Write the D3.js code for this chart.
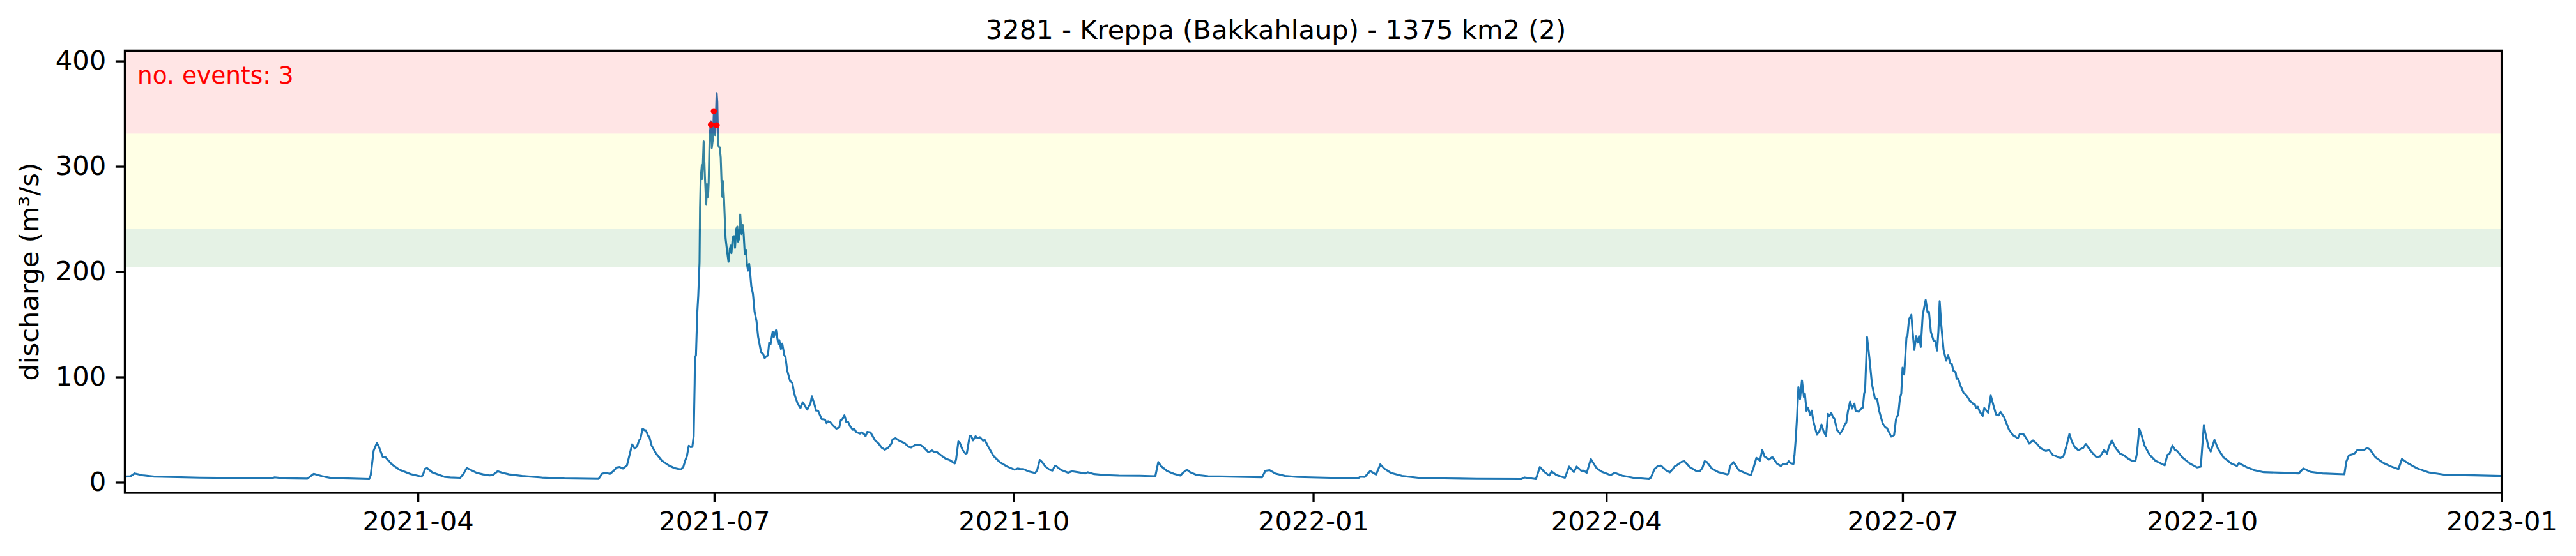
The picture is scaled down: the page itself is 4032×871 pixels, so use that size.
<!DOCTYPE html>
<html lang="en">
<head>
    <meta charset="UTF-8">
    <script src="https://cdn.jsdelivr.net/npm/d3@7"></script>
    <title>3281 - Kreppa</title>
    <style>
        body {
            margin: 0;
            background: white;
        }
        text {
            font-family: "DejaVu Sans", sans-serif;
            font-size: 41.67px;
            fill: black;
        }
        .tick line, .frame {
            stroke: black;
            stroke-width: 3.33px;
        }
        .frame {
            fill: none;
        }
    </style>
</head>

<body>
    <div id="chart"></div>

    <script>
        const titleText = "3281 - Kreppa (Bakkahlaup) - 1375 km2 (2)";
        const yLabel = "discharge (m³/s)";
        const eventsLabel = "no. events: 3";

        const yTicks = [0, 100, 200, 300, 400];
        const xTicks = ["2021-04", "2021-07", "2021-10", "2022-01", "2022-04", "2022-07", "2022-10", "2023-01"];

        // warning levels, lower and upper edge in m3/s
        const bandEdges = [[204, 240.5], [240.5, 331], [331, 420]];
        const bandColors = ["green", "yellow", "red"];

        // days since 2021-01-01
        const obsDay = [
            0, 1.75, 3, 5.4, 9, 23, 45, 46, 49, 56,
            58, 60.6, 64, 67, 75, 75.5, 76.4, 77.4, 78.1, 79.2,
            80, 82, 84.3, 87.8, 91, 91.5, 92.2, 92.8, 94.4, 98.3,
            100, 103, 104, 105, 106, 108, 110, 112, 113, 114.5,
            116, 118, 122, 128, 135, 145.5, 146.5, 147.5, 149, 150,
            151, 152, 153, 154.2, 155, 155.8, 156.6, 157.3, 157.9, 158.3,
            159, 159.6, 160, 160.7, 161.1, 161.8, 163.1, 164.9, 167.1, 168.8,
            170.8, 171.5, 172.1, 172.6, 173.2, 173.8, 174.3, 174.7, 175, 175.1,
            175.4, 175.8, 176.1, 176.5, 176.65, 176.85, 177.2, 177.3, 177.5, 177.76,
            178.15, 178.55, 178.8, 179.1, 179.3, 179.6, 180, 180.25, 180.6, 180.9,
            181.3, 181.5, 181.75, 181.95, 182.2, 182.4, 182.7, 183, 183.25, 183.5,
            183.7, 184, 184.5, 185, 185.4, 185.8, 186.1, 186.3, 186.7, 187.1,
            187.4, 187.8, 188.1, 188.3, 188.6, 189, 189.4, 189.8, 190.05, 190.4,
            190.8, 191.05, 191.4, 191.75, 192, 192.4, 192.9, 193.4, 194, 194.5,
            195.4, 196, 196.5, 197, 197.5, 197.9, 198.3, 198.96, 199.3, 200,
            200.7, 201, 201.5, 201.9, 202.55, 202.9, 203.4, 204.3, 205, 205.6,
            206.6, 207.5, 208.2, 209.6, 210.2, 210.5, 211, 211.7, 212.3, 212.9,
            214, 215, 215.5, 216, 216.7, 217.4, 218.5, 219.4, 219.9, 220.4,
            221, 221.6, 222.1, 222.8, 223.6, 224, 224.6, 225.8, 226.2, 226.9,
            227.5, 228, 229, 230.4, 231.5, 232.5, 233.4, 234.5, 235.4, 235.8,
            236.7, 237.6, 239.4, 240.7, 241.5, 242.9, 244.2, 245.5, 246.8, 247.9,
            248.5, 249.4, 250.7, 252, 253.4, 254.9, 255.3, 256, 256.4, 257.3,
            258.2, 258.6, 259.5, 259.9, 260.5, 261.3, 261.9, 262.6, 263.6, 264.1,
            265.2, 266.9, 268.7, 270.9, 273.3, 274.2, 275.1, 276, 277.4, 279.6,
            280.2, 281, 281.6, 282.7, 284, 284.9, 285.6, 286, 287.4, 289.7,
            290.9, 295, 295.7, 297.7, 301.2, 305.2, 311.7, 316.5, 317.4, 318.2,
            320.2, 322.2, 324.2, 325, 326.2, 327.2, 329.2, 332.7, 339.3, 349.3,
            350.3, 351.6, 353.3, 356.3, 360.3, 370.3, 378.8, 379.5, 380.8, 382.5,
            384.3, 385.6, 386.8, 388.8, 392.3, 397.3, 405.3, 415.3, 428.9, 429.9,
            433.4, 434.6, 436.1, 437.5, 438.2, 439.7, 442.3, 443.6, 445.05, 445.9,
            447.3, 448.1, 449, 450.25, 452, 453.6, 456.3, 457.6, 459.8, 463.3,
            468.1, 468.7, 469.8, 470.7, 471.8, 473.3, 474.5, 475.4, 476, 476.8,
            478.2, 479, 480.6, 482.5, 483.7, 484.5, 485.2, 485.9, 487.4, 489.5,
            492.2, 492.6, 493, 494.1, 495.7, 497.9, 499.4, 500.2, 501.1, 502.2,
            502.9, 503.6, 504.9, 506, 507.5, 508.6, 509.3, 510.4, 511, 511.7,
            512.5, 512.8, 513.2, 513.6, 514, 514.5, 515.1, 515.7, 516, 516.5,
            516.95, 517.6, 518.1, 518.6, 519.7, 520.5, 521.1, 521.8, 522.5, 523.1,
            523.5, 524.1, 524.6, 525.1, 525.9, 526.8, 527.6, 528.4, 528.7, 529.2,
            529.9, 530.5, 531.2, 531.6, 532.6, 533.3, 533.8, 534.2, 534.5, 535.1,
            535.8, 536.6, 537.5, 538.2, 538.8, 539.9, 540.8, 541.2, 541.8, 542.5,
            543.4, 544, 544.7, 545.2, 545.6, 546, 546.5, 547.2, 547.5, 548,
            548.7, 549.1, 549.6, 550.2, 550.7, 551.1, 551.6, 552.2, 553.1, 553.7,
            554.1, 554.7, 555.5, 556.1, 556.6, 557, 557.4, 557.9, 558.6, 559.4,
            560, 560.7, 561.1, 561.6, 562.3, 562.6, 563.1, 563.7, 564.7, 565.9,
            566.6, 567.7, 568.2, 568.6, 569.1, 569.7, 570.65, 571.1, 572.3, 573.1,
            574, 574.7, 575.55, 576.1, 577.2, 578.7, 579.9, 581.4, 582, 583.1,
            584, 584.9, 586.05, 587.2, 588.4, 590, 591, 592.1, 593.3, 594.45,
            595.4, 596.2, 597.25, 598, 598.9, 600, 601.5, 602.3, 603.8, 605.5,
            606.7, 607.9, 608.8, 609.4, 610.3, 611.4, 612.8, 614, 615.5, 616.6,
            617.55, 618, 618.7, 619.4, 620.35, 621.9, 623.6, 626.5, 627.35, 628,
            628.9, 629.7, 630.4, 631.8, 634.1, 636.45, 637.6, 638.55, 639, 640,
            640.65, 641.35, 641.8, 642.9, 644.6, 646.95, 648.7, 649.3, 651.6, 654,
            656.9, 663.3, 667.7, 669.1, 671.4, 675, 681.7, 682.3, 683.1, 684.3,
            684.9, 685.7, 686.4, 687.5, 688.7, 689.5, 691.3, 693.6, 695.95, 698.3,
            699.4, 701.2, 704.1, 707.6, 712.85, 721.6, 729.8
        ];

        const discharge = [
            5.4, 5.7, 8.4, 6.7, 5.4, 4.4, 3.7, 4.7, 3.7, 3.4,
            8, 5.7, 3.7, 3.7, 3, 6.7, 30, 37.4, 33, 24,
            24, 17, 12, 7.7, 5.4, 6.7, 12.8, 13.5, 9.4, 5,
            4.6, 4.2, 8, 13.5, 12, 9, 7.5, 6.5, 6.8, 10.5,
            9, 7.5, 6, 4.5, 3.6, 3.2, 8, 9, 8, 10.5,
            14, 14.5, 13, 16, 26, 36, 32, 34, 39.7, 40.8,
            50.9, 49.4, 49.4, 44.2, 42.8, 34.7, 27.6, 20.6, 15.9, 13.5,
            12.1, 14.5, 20.6, 24.6, 34.7, 33.3, 33.7, 43.8, 94.3, 118.5,
            120.5, 161, 177, 209, 260, 288, 301, 288, 300, 323.6,
            290, 264, 283, 271, 284, 328, 342.8, 317.5, 326, 352,
            329.6, 344.8, 369.5, 361, 322.5, 318.5, 318, 308.5, 286, 271,
            286, 270, 231.7, 218.5, 209.4, 221.6, 224.6, 217.5, 232.7, 233.7,
            222.6, 240.8, 242.8, 228.6, 230.7, 254.3, 235.7, 244.2, 235.7, 216.5,
            220.6, 207.4, 200.9, 207.4, 200.4, 186.2, 179, 162, 153, 138,
            123.6, 122, 118, 119.5, 120.5, 132.7, 131, 143, 137.7, 144.4,
            131, 135, 126.6, 131.7, 120.5, 119, 106.4, 96.3, 94.3, 84,
            75, 70.5, 76, 69, 73, 73.7, 81.6, 75, 68, 68,
            60, 59.6, 56.3, 58, 57, 54.3, 50.9, 52, 59, 60,
            63.6, 57, 57.5, 52.9, 49.9, 50.9, 47.8, 46.2, 47.4, 46.2,
            43.8, 47.8, 47.4, 39.8, 36.7, 32.7, 30.9, 33, 36.7, 40.8,
            41.8, 39.8, 37.3, 33.7, 33, 35.7, 35.7, 32.7, 28.6, 30.3,
            29, 28.6, 25.6, 22.6, 21, 17.9, 21.6, 38.7, 37.7, 30.7,
            27.2, 27.6, 44.2, 44.2, 39.8, 43.8, 41.8, 42.8, 39.4, 40.2,
            33.7, 24.6, 19.2, 15.1, 11.9, 13.1, 12.5, 12.5, 10.5, 8.8,
            11.5, 21.2, 19.6, 15.1, 11.9, 11.1, 15.5, 15.5, 11.9, 9.1,
            10.5, 8.4, 9.5, 7.8, 6.8, 6.4, 6.2, 5.8, 19.2, 15.5,
            10.5, 8, 6.4, 9, 12, 9.5, 7, 5.8, 5.4, 4.8,
            10.9, 11.5, 8.4, 6, 5, 4.2, 3.8, 5.4, 5, 10.7,
            7.4, 17, 13, 9, 6, 4.2, 3.6, 3.2, 3, 4.6,
            3, 14.5, 9.5, 6.4, 10.3, 6.8, 4.3, 14.9, 9.7, 14.9,
            11, 11, 9, 22, 13.5, 10, 6.8, 9, 6.4, 4.2,
            3, 4.4, 12.5, 15.1, 15.9, 11.5, 9.5, 12.5, 15.1, 16.5,
            19.6, 20, 14.5, 11, 10.5, 13.5, 20, 19.2, 13.1, 9.5,
            7.4, 8.4, 15.5, 19.2, 11.5, 8.4, 6.8, 13.5, 23.2, 20.6,
            30.7, 24.6, 21.6, 24, 17.5, 15.5, 17.1, 17, 20, 18.1,
            17.5, 25.6, 41.8, 62, 90.3, 79, 96.7, 81, 84, 67.6,
            71, 64, 68, 58, 45.2, 48.8, 54.9, 47.8, 44.2, 65,
            63, 66, 62, 60, 49.5, 46.2, 49.9, 55.9, 56.3, 67,
            76.7, 70, 74.7, 67.6, 67, 70, 71, 84, 88, 137.7,
            118.5, 93.3, 79.8, 79, 68, 55.9, 51.9, 51.5, 47.8, 43.4,
            44.8, 60, 65, 79.8, 84, 108.8, 102.4, 137.7, 138.7, 154.9,
            159, 142.8, 125.6, 138.7, 132.7, 138.7, 128.6, 159, 173, 161,
            162, 142.8, 134.7, 133.7, 125, 142.8, 172, 148.8, 125.6, 115.5,
            120.5, 112.5, 112.5, 106, 104.4, 98.3, 98.3, 92.3, 85.2, 81.2,
            77.7, 74.5, 74, 70.5, 71.7, 67, 63, 70.5, 66, 82.2,
            72, 64.4, 63.6, 66.8, 61.6, 49.9, 44.8, 41.8, 45.8, 45.8,
            41.8, 36.7, 39.8, 36.7, 32.3, 29.7, 30.7, 26, 24.6, 23,
            24.6, 32.7, 45.8, 38.7, 33.3, 30.5, 32.7, 36.3, 29.7, 24,
            24.6, 30.7, 27.2, 34, 39.8, 32.7, 27.2, 25.6, 22, 20.2,
            20.6, 27.6, 50.9, 44.8, 34.7, 26, 20.6, 16.1, 26, 27.2,
            34.9, 30.7, 29.6, 24, 18.1, 14.1, 14.9, 54.3, 46.8, 32.7,
            29.2, 35.7, 40.2, 31.7, 23.6, 17.9, 15.5, 18.3, 14.5, 11.5,
            9.6, 9, 8.4, 13.1, 9.8, 8.4, 7.6, 19.6, 25.6, 26.6,
            27.6, 30.7, 30.3, 30.3, 32.5, 31.3, 23.6, 18.5, 15.1, 12.5,
            22.2, 18.1, 13.1, 9.4, 7, 6.6, 6
        ];

        // threshold exceedances shown as red dots
        const eventDay = [180, 180.9, 181.75];
        const eventValue = [339.5, 352.3, 339];

        const width = 4032;
        const height = 871;
        const margin = { top: 79.4, right: 116.4, bottom: 99, left: 195.5 };

        const startDate = new Date(Date.UTC(2021, 0, 1));
        const toDate = day => new Date(startDate.getTime() + day * 864e5);

        const x = d3.scaleUtc()
            .domain([startDate, new Date(Date.UTC(2023, 0, 1))])
            .range([margin.left, width - margin.right]);

        const y = d3.scaleLinear()
            .domain([-10, 409.8])
            .range([height - margin.bottom, margin.top]);

        const svg = d3.select("#chart").append("svg")
            .attr("width", width)
            .attr("height", height)
            .style("display", "block");

        svg.append("clipPath").attr("id", "plot-area")
            .append("rect")
            .attr("x", margin.left)
            .attr("y", margin.top)
            .attr("width", width - margin.left - margin.right)
            .attr("height", height - margin.top - margin.bottom);

        const plot = svg.append("g").attr("clip-path", "url(#plot-area)");

        const line = d3.line()
            .x(d => x(toDate(d[0])))
            .y(d => y(d[1]));

        plot.append("path")
            .datum(d3.zip(obsDay, discharge))
            .attr("d", line)
            .attr("fill", "none")
            .attr("stroke", "#1f77b4")
            .attr("stroke-width", 3.1)
            .attr("stroke-linejoin", "round");

        // the bands sit over the line, it picks up their tint
        plot.selectAll("rect.band")
            .data(bandEdges)
            .enter().append("rect")
            .attr("class", "band")
            .attr("x", margin.left)
            .attr("width", width - margin.left - margin.right)
            .attr("y", d => y(d[1]))
            .attr("height", d => y(d[0]) - y(d[1]))
            .attr("fill", (d, i) => bandColors[i])
            .attr("fill-opacity", 0.1);

        plot.selectAll("circle")
            .data(d3.zip(eventDay, eventValue))
            .enter().append("circle")
            .attr("cx", d => x(toDate(d[0])))
            .attr("cy", d => y(d[1]))
            .attr("r", 4.8)
            .attr("fill", "red");

        const xAxis = d3.axisBottom(x)
            .tickValues(xTicks.map(d => d3.utcParse("%Y-%m")(d)))
            .tickFormat(d3.utcFormat("%Y-%m"))
            .tickSize(14.6)
            .tickPadding(14.6);

        const yAxis = d3.axisLeft(y)
            .tickValues(yTicks)
            .tickSize(14.6)
            .tickPadding(14.6);

        svg.append("g")
            .attr("transform", `translate(0,${height - margin.bottom})`)
            .call(xAxis)
            .call(g => g.select(".domain").remove());

        svg.append("g")
            .attr("transform", `translate(${margin.left},0)`)
            .call(yAxis)
            .call(g => g.select(".domain").remove());

        svg.selectAll(".tick text")
            .style("font-family", '"DejaVu Sans", sans-serif')
            .style("font-size", "41.67px");

        svg.append("rect")
            .attr("class", "frame")
            .attr("x", margin.left)
            .attr("y", margin.top)
            .attr("width", width - margin.left - margin.right)
            .attr("height", height - margin.top - margin.bottom);

        svg.append("text")
            .attr("x", 1997)
            .attr("y", 61)
            .attr("text-anchor", "middle")
            .text(titleText);

        svg.append("text")
            .attr("transform", `translate(60,${(margin.top + height - margin.bottom) / 2}) rotate(-90)`)
            .attr("text-anchor", "middle")
            .text(yLabel);

        svg.append("text")
            .attr("x", 215)
            .attr("y", 130.5)
            .style("fill", "red")
            .style("font-size", "37.5px")
            .text(eventsLabel);
    </script>
</body>
</html>
